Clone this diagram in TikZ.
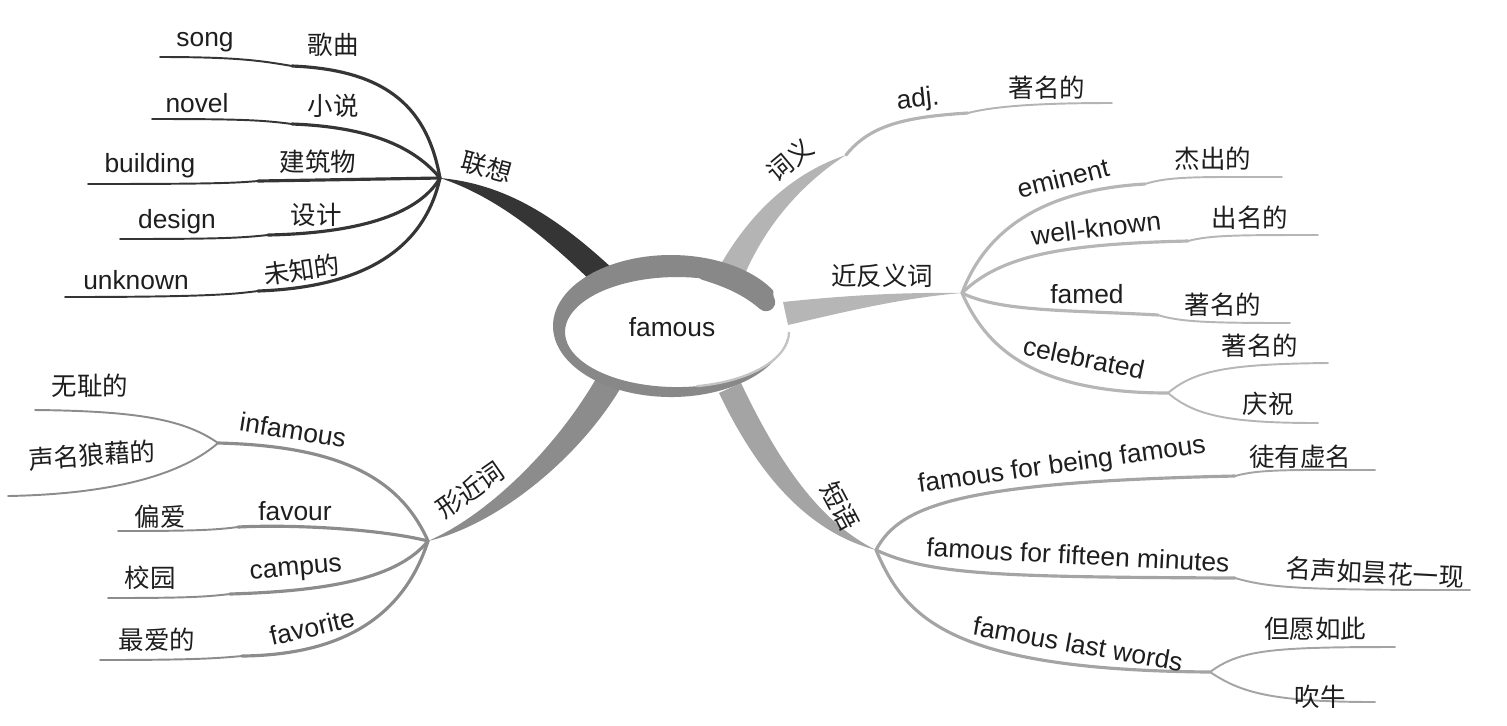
\documentclass[tikz,border=0pt]{standalone}
\usepackage{fontspec}
\setmainfont{Liberation Sans}
\newfontfamily\cjk{Noto Sans CJK SC}
\definecolor{ink}{HTML}{1E1E1E}
\definecolor{assoc}{HTML}{353535}
\definecolor{alike}{HTML}{8C8C8C}
\definecolor{sense}{HTML}{B4B4B4}
\definecolor{synon}{HTML}{B6B6B6}
\definecolor{phrase}{HTML}{A4A4A4}
\definecolor{ring}{HTML}{888888}

\begin{document}
\begin{tikzpicture}[x=0.02cm,y=-0.02cm,
  en/.style={font=\fontsize{15}{17}\selectfont,text=ink,inner sep=0pt},
  zh/.style={font=\cjk\fontsize{14.5}{17}\selectfont,text=ink,inner sep=0pt},
  twig/.style={line width=1.8pt,line cap=round},
  leaf/.style={line width=1.1pt,line cap=round}]
\useasboundingbox (0,0) rectangle (1507,725);

\coordinate (hA) at (440,178);
\coordinate (hB) at (428,541);
\coordinate (hC) at (846,155);
\coordinate (hD) at (962,293);
\coordinate (hE) at (876,550);

\fill[assoc] (hA) .. controls (505,184) and (556,216) .. (614,270) -- (596,286) .. controls (545,236) and (495,196) .. (hA);
\fill[alike] (hB) .. controls (486,516) and (555,450) .. (597,377) -- (620,389) .. controls (576,462) and (494,526) .. (hB);
\fill[sense] (hC) .. controls (795,172) and (752,210) .. (721,264) -- (744,276) .. controls (768,220) and (806,181) .. (hC);
\fill[synon] (hD) .. controls (900,292) and (840,296) .. (783,302) -- (788,325) .. controls (840,313) and (900,298) .. (hD);
\fill[phrase] (hE) .. controls (820,522) and (780,465) .. (741,383) -- (719,393) .. controls (758,475) and (808,532) .. (hE);

\fill[white] (677,332) ellipse[x radius=112,y radius=55];
\fill[ring] (773.2,290.5) arc[start angle=330,end angle=10,x radius=118,y radius=71] -- (787.3,341.6) arc[start angle=10,end angle=330,x radius=112,y radius=55] -- cycle;
\draw[ring,line width=10.5pt,line cap=round] (705,271) .. controls (735,280) and (752,290) .. (766,302);
\draw[ring!50,line width=1.3pt] (789,332) arc[start angle=0,end angle=80,x radius=112,y radius=55];
\node[en] (core) at (672,327) {famous};

\coordinate (kSong) at (292,66);    \coordinate (eSong) at (160,57);
\coordinate (kNovel) at (292,124);  \coordinate (eNovel) at (152,119);
\coordinate (kBuild) at (258,181);  \coordinate (eBuild) at (88,184);
\coordinate (kDesign) at (268,235); \coordinate (eDesign) at (120,239);
\coordinate (kUnk) at (258,291);    \coordinate (eUnk) at (65,297);
\draw[assoc,twig] (hA) .. controls (428,112) and (392,70) .. (kSong);
\draw[assoc,leaf] (kSong) .. controls (262,61) and (240,57) .. (eSong);
\draw[assoc,twig] (hA) .. controls (415,148) and (372,127) .. (kNovel);
\draw[assoc,leaf] (kNovel) .. controls (262,120) and (240,119) .. (eNovel);
\draw[assoc,twig] (hA) .. controls (380,179) and (320,180) .. (kBuild);
\draw[assoc,leaf] (kBuild) .. controls (235,183) and (215,184) .. (eBuild);
\draw[assoc,twig] (hA) .. controls (420,212) and (365,233) .. (kDesign);
\draw[assoc,leaf] (kDesign) .. controls (240,238) and (220,239) .. (eDesign);
\draw[assoc,twig] (hA) .. controls (425,245) and (370,287) .. (kUnk);
\draw[assoc,leaf] (kUnk) .. controls (235,294) and (210,297) .. (eUnk);
\node[zh] (lSongZh) at (333,45) {歌曲};
\node[en] (lSong) at (205,42) {song};
\node[zh] (lNovelZh) at (333,106) {小说};
\node[en] (lNovel) at (197,103) {novel};
\node[zh] (lBuildZh) at (318,162) {建筑物};
\node[en] (lBuild) at (150,166) {building};
\node[zh] (lDesignZh) at (316,215) {设计};
\node[en] (lDesign) at (177,222) {design};
\node[zh,rotate=8] (lUnkZh) at (302,270) {未知的};
\node[en] (lUnk) at (136,280) {unknown};
\node[zh,rotate=-15] (lAssoc) at (487,167) {联想};

\coordinate (hInf) at (218,443);
\coordinate (eShame) at (35,410);  \coordinate (eNotor) at (8,496);
\coordinate (kFav) at (238,527);   \coordinate (eFav) at (118,531);
\coordinate (kCamp) at (230,594);  \coordinate (eCamp) at (108,598);
\coordinate (kFavr) at (242,656);  \coordinate (eFavr) at (100,660);
\draw[alike,twig] (hB) .. controls (400,478) and (340,446) .. (hInf);
\draw[alike,leaf] (hInf) .. controls (185,420) and (140,411) .. (eShame);
\draw[alike,leaf] (hInf) .. controls (185,472) and (120,494) .. (eNotor);
\draw[alike,twig] (hB) .. controls (385,530) and (300,524) .. (kFav);
\draw[alike,leaf] (kFav) .. controls (215,530) and (195,531) .. (eFav);
\draw[alike,twig] (hB) .. controls (398,578) and (330,591) .. (kCamp);
\draw[alike,leaf] (kCamp) .. controls (205,597) and (185,598) .. (eCamp);
\draw[alike,twig] (hB) .. controls (402,622) and (335,655) .. (kFavr);
\draw[alike,leaf] (kFavr) .. controls (220,658) and (200,660) .. (eFavr);
\node[en,rotate=-9] (lInf) at (293,430) {infamous};
\node[zh] (lShame) at (90,386) {无耻的};
\node[zh,rotate=4] (lNotor) at (92,455) {声名狼藉的};
\node[en] (lFav) at (295,511) {favour};
\node[zh] (lFavZh) at (160,517) {偏爱};
\node[en,rotate=5] (lCamp) at (296,571) {campus};
\node[zh] (lCampZh) at (150,578) {校园};
\node[en,rotate=13] (lFavr) at (312,627) {favorite};
\node[zh] (lFavrZh) at (157,640) {最爱的};
\node[zh,rotate=35] (lAlike) at (470,490) {形近词};

\coordinate (kAdj) at (968,113); \coordinate (eAdj) at (1112,103);
\draw[sense,twig] (hC) .. controls (870,125) and (905,117) .. (kAdj);
\draw[sense,leaf] (kAdj) .. controls (995,106) and (1040,103) .. (eAdj);
\node[en,rotate=6] (lAdj) at (918,100) {adj.};
\node[zh] (lAdjZh) at (1047,88) {著名的};
\node[zh,rotate=40] (lSense) at (790,160) {词义};

\coordinate (kEmi) at (1145,184);   \coordinate (eEmi) at (1282,177);
\coordinate (kWell) at (1188,241);  \coordinate (eWell) at (1318,235);
\coordinate (kFamed) at (1158,315); \coordinate (eFamed) at (1290,323);
\coordinate (hCel) at (1168,393);
\coordinate (eCelUp) at (1328,363); \coordinate (eCelDn) at (1318,423);
\draw[synon,twig] (hD) .. controls (985,232) and (1040,190) .. (kEmi);
\draw[synon,leaf] (kEmi) .. controls (1170,176) and (1200,177) .. (eEmi);
\draw[synon,twig] (hD) .. controls (1000,256) and (1060,244) .. (kWell);
\draw[synon,leaf] (kWell) .. controls (1210,235) and (1240,235) .. (eWell);
\draw[synon,twig] (hD) .. controls (1000,312) and (1070,310) .. (kFamed);
\draw[synon,leaf] (kFamed) .. controls (1180,322) and (1210,323) .. (eFamed);
\draw[synon,twig] (hD) .. controls (985,345) and (1030,393) .. (hCel);
\draw[synon,leaf] (hCel) .. controls (1195,370) and (1230,364) .. (eCelUp);
\draw[synon,leaf] (hCel) .. controls (1195,416) and (1230,423) .. (eCelDn);
\node[en,rotate=14] (lEmi) at (1063,178) {eminent};
\node[zh] (lEmiZh) at (1213,159) {杰出的};
\node[en,rotate=7] (lWell) at (1096,228) {well-known};
\node[zh] (lWellZh) at (1250,218) {出名的};
\node[en] (lFamed) at (1087,294) {famed};
\node[zh] (lFamedZh) at (1223,305) {著名的};
\node[en,rotate=-12] (lCel) at (1084,358) {celebrated};
\node[zh] (lCelUp) at (1260,346) {著名的};
\node[zh] (lCelDn) at (1268,404) {庆祝};
\node[zh] (lSynon) at (882,276) {近反义词};

\coordinate (kBeing) at (1235,476); \coordinate (eBeing) at (1375,470);
\coordinate (kFif) at (1235,578);   \coordinate (eFif) at (1470,590);
\coordinate (hLast) at (1210,672);
\coordinate (eLastUp) at (1395,647); \coordinate (eLastDn) at (1375,702);
\draw[phrase,twig] (hE) .. controls (900,505) and (960,482) .. (kBeing);
\draw[phrase,leaf] (kBeing) .. controls (1260,469) and (1290,470) .. (eBeing);
\draw[phrase,twig] (hE) .. controls (930,575) and (1000,577) .. (kFif);
\draw[phrase,leaf] (kFif) .. controls (1270,588) and (1300,590) .. (eFif);
\draw[phrase,twig] (hE) .. controls (905,618) and (950,670) .. (hLast);
\draw[phrase,leaf] (hLast) .. controls (1240,650) and (1270,647) .. (eLastUp);
\draw[phrase,leaf] (hLast) .. controls (1240,692) and (1270,702) .. (eLastDn);
\node[en,rotate=8] (lBeing) at (1062,466) {famous for being famous};
\node[zh] (lBeingZh) at (1300,457) {徒有虚名};
\node[en,rotate=-3] (lFif) at (1078,555) {famous for fifteen minutes};
\node[zh,rotate=-3] (lFifZh) at (1375,573) {名声如昙花一现};
\node[en,rotate=-10] (lLast) at (1078,644) {famous last words};
\node[zh] (lLastUp) at (1315,629) {但愿如此};
\node[zh] (lLastDn) at (1320,697) {吹牛};
\node[zh,rotate=-62] (lPhrase) at (840,506) {短语};
\end{tikzpicture}
\end{document}
